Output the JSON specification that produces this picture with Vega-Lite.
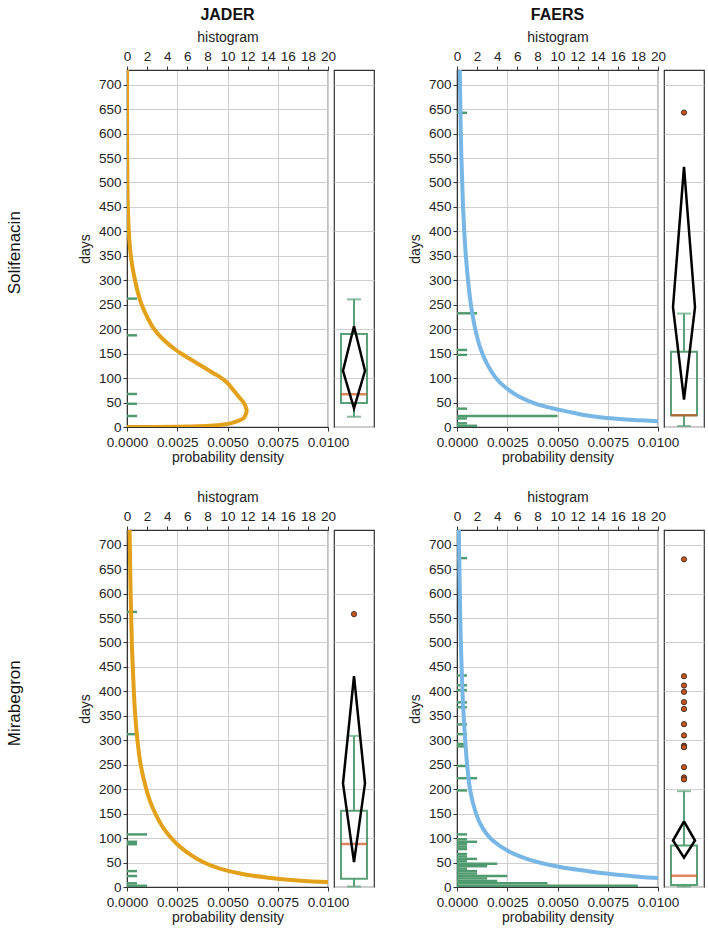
{
"$schema": "https://vega.github.io/schema/vega-lite/v6.json",
"padding": {"left": 5, "top": 6, "right": 2, "bottom": 2},
"spacing": 23,
"config": {
  "font": "Liberation Sans",
  "view": {"stroke": "#333", "strokeWidth": 1.2},
  "axis": {"labelFontSize": 13.5, "titleFontSize": 14, "labelColor": "#222", "titleColor": "#222", "titleFontWeight": "normal", "domainColor": "#333", "tickColor": "#333", "gridColor": "#cfcfcf", "tickSize": 4, "labelPadding": 2, "titlePadding": 3, "labelFlush": false, "labelOverlap": false},
  "axisTop": {"labelPadding": 3, "titlePadding": 5},
  "axisBottom": {"labelPadding": 4, "titlePadding": 2},
  "axisLeft": {"titlePadding": 6},
  "title": {"fontSize": 16, "fontWeight": "bold", "color": "#111"}
},
"datasets": {
  "hist": [
    {"src":"JADER","drug":"Solifenacin","days":20,"days2":25,"count":1},
    {"src":"JADER","drug":"Solifenacin","days":45,"days2":50,"count":1},
    {"src":"JADER","drug":"Solifenacin","days":65,"days2":70,"count":1},
    {"src":"JADER","drug":"Solifenacin","days":185,"days2":190,"count":1},
    {"src":"JADER","drug":"Solifenacin","days":260,"days2":265,"count":1},
    {"src":"FAERS","drug":"Solifenacin","days":0,"days2":5,"count":2},
    {"src":"FAERS","drug":"Solifenacin","days":5,"days2":10,"count":1},
    {"src":"FAERS","drug":"Solifenacin","days":15,"days2":20,"count":1},
    {"src":"FAERS","drug":"Solifenacin","days":20,"days2":25,"count":10},
    {"src":"FAERS","drug":"Solifenacin","days":35,"days2":40,"count":1},
    {"src":"FAERS","drug":"Solifenacin","days":145,"days2":150,"count":1},
    {"src":"FAERS","drug":"Solifenacin","days":155,"days2":160,"count":1},
    {"src":"FAERS","drug":"Solifenacin","days":230,"days2":235,"count":2},
    {"src":"FAERS","drug":"Solifenacin","days":640,"days2":645,"count":1},
    {"src":"JADER","drug":"Mirabegron","days":0,"days2":5,"count":2},
    {"src":"JADER","drug":"Mirabegron","days":5,"days2":10,"count":1},
    {"src":"JADER","drug":"Mirabegron","days":20,"days2":25,"count":1},
    {"src":"JADER","drug":"Mirabegron","days":30,"days2":35,"count":1},
    {"src":"JADER","drug":"Mirabegron","days":85,"days2":90,"count":1},
    {"src":"JADER","drug":"Mirabegron","days":90,"days2":95,"count":1},
    {"src":"JADER","drug":"Mirabegron","days":105,"days2":110,"count":2},
    {"src":"JADER","drug":"Mirabegron","days":310,"days2":315,"count":1},
    {"src":"JADER","drug":"Mirabegron","days":560,"days2":565,"count":1},
    {"src":"FAERS","drug":"Mirabegron","days":0,"days2":5,"count":18},
    {"src":"FAERS","drug":"Mirabegron","days":5,"days2":10,"count":9},
    {"src":"FAERS","drug":"Mirabegron","days":10,"days2":15,"count":4},
    {"src":"FAERS","drug":"Mirabegron","days":15,"days2":20,"count":3},
    {"src":"FAERS","drug":"Mirabegron","days":20,"days2":25,"count":5},
    {"src":"FAERS","drug":"Mirabegron","days":25,"days2":30,"count":2},
    {"src":"FAERS","drug":"Mirabegron","days":30,"days2":35,"count":2},
    {"src":"FAERS","drug":"Mirabegron","days":35,"days2":40,"count":1},
    {"src":"FAERS","drug":"Mirabegron","days":40,"days2":45,"count":3},
    {"src":"FAERS","drug":"Mirabegron","days":45,"days2":50,"count":4},
    {"src":"FAERS","drug":"Mirabegron","days":50,"days2":55,"count":1},
    {"src":"FAERS","drug":"Mirabegron","days":55,"days2":60,"count":2},
    {"src":"FAERS","drug":"Mirabegron","days":60,"days2":65,"count":1},
    {"src":"FAERS","drug":"Mirabegron","days":65,"days2":70,"count":1},
    {"src":"FAERS","drug":"Mirabegron","days":75,"days2":80,"count":1},
    {"src":"FAERS","drug":"Mirabegron","days":80,"days2":85,"count":1},
    {"src":"FAERS","drug":"Mirabegron","days":85,"days2":90,"count":1},
    {"src":"FAERS","drug":"Mirabegron","days":90,"days2":95,"count":2},
    {"src":"FAERS","drug":"Mirabegron","days":95,"days2":100,"count":1},
    {"src":"FAERS","drug":"Mirabegron","days":105,"days2":110,"count":1},
    {"src":"FAERS","drug":"Mirabegron","days":195,"days2":200,"count":1},
    {"src":"FAERS","drug":"Mirabegron","days":220,"days2":225,"count":2},
    {"src":"FAERS","drug":"Mirabegron","days":245,"days2":250,"count":1},
    {"src":"FAERS","drug":"Mirabegron","days":285,"days2":290,"count":1},
    {"src":"FAERS","drug":"Mirabegron","days":290,"days2":295,"count":1},
    {"src":"FAERS","drug":"Mirabegron","days":310,"days2":315,"count":1},
    {"src":"FAERS","drug":"Mirabegron","days":330,"days2":335,"count":1},
    {"src":"FAERS","drug":"Mirabegron","days":365,"days2":370,"count":1},
    {"src":"FAERS","drug":"Mirabegron","days":375,"days2":380,"count":1},
    {"src":"FAERS","drug":"Mirabegron","days":400,"days2":405,"count":1},
    {"src":"FAERS","drug":"Mirabegron","days":410,"days2":415,"count":1},
    {"src":"FAERS","drug":"Mirabegron","days":430,"days2":435,"count":1},
    {"src":"FAERS","drug":"Mirabegron","days":670,"days2":675,"count":1}
  ],
  "dens": [
    {"src":"JADER","drug":"Solifenacin","days":0,"dens":0},
    {"src":"JADER","drug":"Solifenacin","days":0.5,"dens":0.0025},
    {"src":"JADER","drug":"Solifenacin","days":1,"dens":0.0032},
    {"src":"JADER","drug":"Solifenacin","days":2,"dens":0.0039},
    {"src":"JADER","drug":"Solifenacin","days":3,"dens":0.0043},
    {"src":"JADER","drug":"Solifenacin","days":5,"dens":0.0048},
    {"src":"JADER","drug":"Solifenacin","days":8,"dens":0.0052},
    {"src":"JADER","drug":"Solifenacin","days":12,"dens":0.0055},
    {"src":"JADER","drug":"Solifenacin","days":18,"dens":0.0058},
    {"src":"JADER","drug":"Solifenacin","days":25,"dens":0.0059},
    {"src":"JADER","drug":"Solifenacin","days":33,"dens":0.00595},
    {"src":"JADER","drug":"Solifenacin","days":42,"dens":0.0059},
    {"src":"JADER","drug":"Solifenacin","days":50,"dens":0.0058},
    {"src":"JADER","drug":"Solifenacin","days":60,"dens":0.0056},
    {"src":"JADER","drug":"Solifenacin","days":70,"dens":0.0054},
    {"src":"JADER","drug":"Solifenacin","days":80,"dens":0.0052},
    {"src":"JADER","drug":"Solifenacin","days":90,"dens":0.005},
    {"src":"JADER","drug":"Solifenacin","days":100,"dens":0.0047},
    {"src":"JADER","drug":"Solifenacin","days":110,"dens":0.0043},
    {"src":"JADER","drug":"Solifenacin","days":120,"dens":0.0039},
    {"src":"JADER","drug":"Solifenacin","days":130,"dens":0.0035},
    {"src":"JADER","drug":"Solifenacin","days":140,"dens":0.0031},
    {"src":"JADER","drug":"Solifenacin","days":150,"dens":0.0027},
    {"src":"JADER","drug":"Solifenacin","days":160,"dens":0.00235},
    {"src":"JADER","drug":"Solifenacin","days":170,"dens":0.00205},
    {"src":"JADER","drug":"Solifenacin","days":180,"dens":0.00178},
    {"src":"JADER","drug":"Solifenacin","days":190,"dens":0.00155},
    {"src":"JADER","drug":"Solifenacin","days":200,"dens":0.00135},
    {"src":"JADER","drug":"Solifenacin","days":212,"dens":0.00117},
    {"src":"JADER","drug":"Solifenacin","days":225,"dens":0.001},
    {"src":"JADER","drug":"Solifenacin","days":250,"dens":0.00073},
    {"src":"JADER","drug":"Solifenacin","days":275,"dens":0.00054},
    {"src":"JADER","drug":"Solifenacin","days":300,"dens":0.0004},
    {"src":"JADER","drug":"Solifenacin","days":325,"dens":0.00028},
    {"src":"JADER","drug":"Solifenacin","days":350,"dens":0.00019},
    {"src":"JADER","drug":"Solifenacin","days":375,"dens":0.00013},
    {"src":"JADER","drug":"Solifenacin","days":400,"dens":0.00009},
    {"src":"JADER","drug":"Solifenacin","days":450,"dens":0.00004},
    {"src":"JADER","drug":"Solifenacin","days":500,"dens":0.00002},
    {"src":"JADER","drug":"Solifenacin","days":550,"dens":0.00001},
    {"src":"JADER","drug":"Solifenacin","days":600,"dens":0.000004},
    {"src":"JADER","drug":"Solifenacin","days":730,"dens":0},
    {"src":"FAERS","drug":"Solifenacin","days":12,"dens":0.01},
    {"src":"FAERS","drug":"Solifenacin","days":14,"dens":0.009},
    {"src":"FAERS","drug":"Solifenacin","days":17,"dens":0.0079},
    {"src":"FAERS","drug":"Solifenacin","days":20,"dens":0.0071},
    {"src":"FAERS","drug":"Solifenacin","days":24,"dens":0.0064},
    {"src":"FAERS","drug":"Solifenacin","days":28,"dens":0.0059},
    {"src":"FAERS","drug":"Solifenacin","days":35,"dens":0.0051},
    {"src":"FAERS","drug":"Solifenacin","days":48,"dens":0.0039},
    {"src":"FAERS","drug":"Solifenacin","days":62,"dens":0.0031},
    {"src":"FAERS","drug":"Solifenacin","days":75,"dens":0.0026},
    {"src":"FAERS","drug":"Solifenacin","days":96,"dens":0.00202},
    {"src":"FAERS","drug":"Solifenacin","days":130,"dens":0.00148},
    {"src":"FAERS","drug":"Solifenacin","days":164,"dens":0.00114},
    {"src":"FAERS","drug":"Solifenacin","days":198,"dens":0.00092},
    {"src":"FAERS","drug":"Solifenacin","days":232,"dens":0.00076},
    {"src":"FAERS","drug":"Solifenacin","days":266,"dens":0.00064},
    {"src":"FAERS","drug":"Solifenacin","days":300,"dens":0.00055},
    {"src":"FAERS","drug":"Solifenacin","days":350,"dens":0.00044},
    {"src":"FAERS","drug":"Solifenacin","days":400,"dens":0.00036},
    {"src":"FAERS","drug":"Solifenacin","days":450,"dens":0.0003},
    {"src":"FAERS","drug":"Solifenacin","days":500,"dens":0.00026},
    {"src":"FAERS","drug":"Solifenacin","days":550,"dens":0.00022},
    {"src":"FAERS","drug":"Solifenacin","days":600,"dens":0.00019},
    {"src":"FAERS","drug":"Solifenacin","days":650,"dens":0.00017},
    {"src":"FAERS","drug":"Solifenacin","days":700,"dens":0.00015},
    {"src":"FAERS","drug":"Solifenacin","days":730,"dens":0.00014},
    {"src":"JADER","drug":"Mirabegron","days":10,"dens":0.01},
    {"src":"JADER","drug":"Mirabegron","days":13,"dens":0.00866},
    {"src":"JADER","drug":"Mirabegron","days":16,"dens":0.00772},
    {"src":"JADER","drug":"Mirabegron","days":19,"dens":0.00703},
    {"src":"JADER","drug":"Mirabegron","days":23.5,"dens":0.00619},
    {"src":"JADER","drug":"Mirabegron","days":28,"dens":0.00557},
    {"src":"JADER","drug":"Mirabegron","days":34,"dens":0.00494},
    {"src":"JADER","drug":"Mirabegron","days":40,"dens":0.00444},
    {"src":"JADER","drug":"Mirabegron","days":47,"dens":0.004},
    {"src":"JADER","drug":"Mirabegron","days":54,"dens":0.00364},
    {"src":"JADER","drug":"Mirabegron","days":65,"dens":0.00319},
    {"src":"JADER","drug":"Mirabegron","days":81,"dens":0.00267},
    {"src":"JADER","drug":"Mirabegron","days":98,"dens":0.00225},
    {"src":"JADER","drug":"Mirabegron","days":120,"dens":0.00182},
    {"src":"JADER","drug":"Mirabegron","days":150,"dens":0.00141},
    {"src":"JADER","drug":"Mirabegron","days":175,"dens":0.00115},
    {"src":"JADER","drug":"Mirabegron","days":200,"dens":0.00096},
    {"src":"JADER","drug":"Mirabegron","days":250,"dens":0.00068},
    {"src":"JADER","drug":"Mirabegron","days":300,"dens":0.00052},
    {"src":"JADER","drug":"Mirabegron","days":350,"dens":0.00041},
    {"src":"JADER","drug":"Mirabegron","days":400,"dens":0.00034},
    {"src":"JADER","drug":"Mirabegron","days":500,"dens":0.00024},
    {"src":"JADER","drug":"Mirabegron","days":600,"dens":0.00018},
    {"src":"JADER","drug":"Mirabegron","days":700,"dens":0.00014},
    {"src":"JADER","drug":"Mirabegron","days":730,"dens":0.00013},
    {"src":"FAERS","drug":"Mirabegron","days":18.5,"dens":0.01},
    {"src":"FAERS","drug":"Mirabegron","days":20,"dens":0.0093},
    {"src":"FAERS","drug":"Mirabegron","days":23.5,"dens":0.0084},
    {"src":"FAERS","drug":"Mirabegron","days":28,"dens":0.0073},
    {"src":"FAERS","drug":"Mirabegron","days":33.7,"dens":0.0063},
    {"src":"FAERS","drug":"Mirabegron","days":40,"dens":0.00526},
    {"src":"FAERS","drug":"Mirabegron","days":47,"dens":0.0044},
    {"src":"FAERS","drug":"Mirabegron","days":54,"dens":0.00375},
    {"src":"FAERS","drug":"Mirabegron","days":61,"dens":0.00324},
    {"src":"FAERS","drug":"Mirabegron","days":74.5,"dens":0.0025},
    {"src":"FAERS","drug":"Mirabegron","days":95,"dens":0.00178},
    {"src":"FAERS","drug":"Mirabegron","days":110,"dens":0.00145},
    {"src":"FAERS","drug":"Mirabegron","days":129,"dens":0.00116},
    {"src":"FAERS","drug":"Mirabegron","days":163,"dens":0.00085},
    {"src":"FAERS","drug":"Mirabegron","days":197,"dens":0.00066},
    {"src":"FAERS","drug":"Mirabegron","days":231,"dens":0.00055},
    {"src":"FAERS","drug":"Mirabegron","days":265,"dens":0.00047},
    {"src":"FAERS","drug":"Mirabegron","days":300,"dens":0.00041},
    {"src":"FAERS","drug":"Mirabegron","days":350,"dens":0.00033},
    {"src":"FAERS","drug":"Mirabegron","days":400,"dens":0.00027},
    {"src":"FAERS","drug":"Mirabegron","days":450,"dens":0.00023},
    {"src":"FAERS","drug":"Mirabegron","days":500,"dens":0.00019},
    {"src":"FAERS","drug":"Mirabegron","days":600,"dens":0.00014},
    {"src":"FAERS","drug":"Mirabegron","days":700,"dens":0.0001},
    {"src":"FAERS","drug":"Mirabegron","days":730,"dens":0.00009}
  ],
  "box": [
    {"src":"JADER","drug":"Solifenacin","lo":21,"q1":49,"med":67,"q3":190,"hi":261},
    {"src":"FAERS","drug":"Solifenacin","lo":2,"q1":24,"med":24,"q3":154,"hi":232},
    {"src":"JADER","drug":"Mirabegron","lo":1,"q1":17,"med":88,"q3":156,"hi":309},
    {"src":"FAERS","drug":"Mirabegron","lo":1,"q1":4,"med":23,"q3":85,"hi":196}
  ],
  "diam": [
    {"src":"JADER","drug":"Solifenacin","k":0,"slot":"C","days":206},
    {"src":"JADER","drug":"Solifenacin","k":1,"slot":"R","days":115},
    {"src":"JADER","drug":"Solifenacin","k":2,"slot":"C","days":38},
    {"src":"JADER","drug":"Solifenacin","k":3,"slot":"L","days":115},
    {"src":"JADER","drug":"Solifenacin","k":4,"slot":"C","days":206},
    {"src":"FAERS","drug":"Solifenacin","k":0,"slot":"C","days":532},
    {"src":"FAERS","drug":"Solifenacin","k":1,"slot":"R","days":245},
    {"src":"FAERS","drug":"Solifenacin","k":2,"slot":"C","days":56},
    {"src":"FAERS","drug":"Solifenacin","k":3,"slot":"L","days":245},
    {"src":"FAERS","drug":"Solifenacin","k":4,"slot":"C","days":532},
    {"src":"JADER","drug":"Mirabegron","k":0,"slot":"C","days":431},
    {"src":"JADER","drug":"Mirabegron","k":1,"slot":"R","days":212},
    {"src":"JADER","drug":"Mirabegron","k":2,"slot":"C","days":51},
    {"src":"JADER","drug":"Mirabegron","k":3,"slot":"L","days":212},
    {"src":"JADER","drug":"Mirabegron","k":4,"slot":"C","days":431},
    {"src":"FAERS","drug":"Mirabegron","k":0,"slot":"C","days":134},
    {"src":"FAERS","drug":"Mirabegron","k":1,"slot":"R","days":95},
    {"src":"FAERS","drug":"Mirabegron","k":2,"slot":"C","days":60},
    {"src":"FAERS","drug":"Mirabegron","k":3,"slot":"L","days":95},
    {"src":"FAERS","drug":"Mirabegron","k":4,"slot":"C","days":134}
  ],
  "outl": [
    {"src":"FAERS","drug":"Solifenacin","days":643},
    {"src":"JADER","drug":"Mirabegron","days":558},
    {"src":"FAERS","drug":"Mirabegron","days":670},
    {"src":"FAERS","drug":"Mirabegron","days":431},
    {"src":"FAERS","drug":"Mirabegron","days":412},
    {"src":"FAERS","drug":"Mirabegron","days":399},
    {"src":"FAERS","drug":"Mirabegron","days":378},
    {"src":"FAERS","drug":"Mirabegron","days":364},
    {"src":"FAERS","drug":"Mirabegron","days":333},
    {"src":"FAERS","drug":"Mirabegron","days":310},
    {"src":"FAERS","drug":"Mirabegron","days":289},
    {"src":"FAERS","drug":"Mirabegron","days":286},
    {"src":"FAERS","drug":"Mirabegron","days":245},
    {"src":"FAERS","drug":"Mirabegron","days":224},
    {"src":"FAERS","drug":"Mirabegron","days":220}
  ]
},
"vconcat": [
  {
    "title": {"text": "Solifenacin", "orient": "left", "anchor": "middle", "fontSize": 17, "fontWeight": "normal", "offset": 54, "dx": -17},
    "spacing": 32,
    "hconcat": [
      {"bounds": "flush", "spacing": 6, "hconcat": [
        {"width": 201, "height": 357,
         "title": {"text": "JADER", "anchor": "middle", "frame": "group", "offset": 7},
         "layer": [
          {"data": {"name": "hist"}, "transform": [{"filter": "datum.src=='JADER' && datum.drug=='Solifenacin'"}],
           "mark": {"type": "bar", "color": "#4F9A6E"},
           "encoding": {
            "y": {"field": "days", "type": "quantitative", "scale": {"domain": [0, 730], "nice": false}, "axis": {"title": "days", "values": [0,50,100,150,200,250,300,350,400,450,500,550,600,650,700], "grid": true}},
            "y2": {"field": "days2"},
            "x": {"field": "count", "type": "quantitative", "scale": {"domain": [0, 20], "nice": false}, "axis": {"orient": "top", "title": "histogram", "values": [0,2,4,6,8,10,12,14,16,18,20], "grid": false}},
            "x2": {"datum": 0}}},
          {"data": {"name": "dens"}, "transform": [{"filter": "datum.src=='JADER' && datum.drug=='Solifenacin'"}],
           "mark": {"type": "line", "color": "#E3A11A", "strokeWidth": 4, "clip": true, "interpolate": "catmull-rom"},
           "encoding": {
            "y": {"field": "days", "type": "quantitative", "scale": {"domain": [0, 730], "nice": false}, "axis": {"title": "days", "values": [0,50,100,150,200,250,300,350,400,450,500,550,600,650,700], "grid": true}},
            "x": {"field": "dens", "type": "quantitative", "scale": {"domain": [0, 0.01], "nice": false}, "axis": {"orient": "bottom", "title": "probability density", "values": [0,0.0025,0.005,0.0075,0.01], "format": ".4f", "grid": true}},
            "order": {"field": "days"}}}
         ],
         "resolve": {"scale": {"x": "independent"}}},
        {"width": 40, "height": 357,
         "layer": [
          {"data": {"name": "box"}, "transform": [{"filter": "datum.src=='JADER' && datum.drug=='Solifenacin'"}],
           "mark": {"type": "rule", "color": "#5BA079", "strokeWidth": 2},
           "encoding": {"x": {"datum": "C", "type": "nominal", "scale": {"type": "point", "domain": ["L","C","R"], "padding": 0.818}, "axis": null},
            "y": {"field": "q3", "type": "quantitative", "scale": {"domain": [0, 730], "nice": false}, "axis": {"title": null, "labels": false, "ticks": false, "domain": false, "grid": true, "values": [0,50,100,150,200,250,300,350,400,450,500,550,600,650,700]}},
            "y2": {"field": "hi"}}},
          {"data": {"name": "box"}, "transform": [{"filter": "datum.src=='JADER' && datum.drug=='Solifenacin'"}],
           "mark": {"type": "rule", "color": "#5BA079", "strokeWidth": 2},
           "encoding": {"x": {"datum": "C", "type": "nominal"}, "y": {"field": "lo", "type": "quantitative"}, "y2": {"field": "q1"}}},
          {"data": {"name": "box"}, "transform": [{"filter": "datum.src=='JADER' && datum.drug=='Solifenacin'"}],
           "mark": {"type": "tick", "color": "#5BA079", "thickness": 2, "size": 14},
           "encoding": {"x": {"datum": "C", "type": "nominal"}, "y": {"field": "hi", "type": "quantitative"}}},
          {"data": {"name": "box"}, "transform": [{"filter": "datum.src=='JADER' && datum.drug=='Solifenacin'"}],
           "mark": {"type": "tick", "color": "#5BA079", "thickness": 2, "size": 14},
           "encoding": {"x": {"datum": "C", "type": "nominal"}, "y": {"field": "lo", "type": "quantitative"}}},
          {"data": {"name": "box"}, "transform": [{"filter": "datum.src=='JADER' && datum.drug=='Solifenacin'"}],
           "mark": {"type": "bar", "filled": false, "color": "#5BA079", "strokeWidth": 2, "width": 26},
           "encoding": {"x": {"datum": "C", "type": "nominal"}, "y": {"field": "q1", "type": "quantitative"}, "y2": {"field": "q3"}}},
          {"data": {"name": "box"}, "transform": [{"filter": "datum.src=='JADER' && datum.drug=='Solifenacin'"}],
           "mark": {"type": "tick", "color": "#C8541A", "thickness": 2.5, "size": 26},
           "encoding": {"x": {"datum": "C", "type": "nominal"}, "y": {"field": "med", "type": "quantitative"}}},
          {"data": {"name": "diam"}, "transform": [{"filter": "datum.src=='JADER' && datum.drug=='Solifenacin'"}],
           "mark": {"type": "line", "color": "#000", "strokeWidth": 2.5},
           "encoding": {"x": {"field": "slot", "type": "nominal"}, "y": {"field": "days", "type": "quantitative"}, "order": {"field": "k"}}},
          {"data": {"name": "outl"}, "transform": [{"filter": "datum.src=='JADER' && datum.drug=='Solifenacin'"}],
           "mark": {"type": "point", "filled": true, "fill": "#C8541A", "stroke": "#222", "strokeWidth": 0.8, "size": 28, "opacity": 1},
           "encoding": {"x": {"datum": "C", "type": "nominal"}, "y": {"field": "days", "type": "quantitative"}}}
         ]}
      ]},
      {"bounds": "flush", "spacing": 6, "hconcat": [
        {"width": 201, "height": 357,
         "title": {"text": "FAERS", "anchor": "middle", "frame": "group", "offset": 7},
         "layer": [
          {"data": {"name": "hist"}, "transform": [{"filter": "datum.src=='FAERS' && datum.drug=='Solifenacin'"}],
           "mark": {"type": "bar", "color": "#4F9A6E"},
           "encoding": {
            "y": {"field": "days", "type": "quantitative", "scale": {"domain": [0, 730], "nice": false}, "axis": {"title": "days", "values": [0,50,100,150,200,250,300,350,400,450,500,550,600,650,700], "grid": true}},
            "y2": {"field": "days2"},
            "x": {"field": "count", "type": "quantitative", "scale": {"domain": [0, 20], "nice": false}, "axis": {"orient": "top", "title": "histogram", "values": [0,2,4,6,8,10,12,14,16,18,20], "grid": false}},
            "x2": {"datum": 0}}},
          {"data": {"name": "dens"}, "transform": [{"filter": "datum.src=='FAERS' && datum.drug=='Solifenacin'"}],
           "mark": {"type": "line", "color": "#78B6E6", "strokeWidth": 4, "clip": true, "interpolate": "catmull-rom"},
           "encoding": {
            "y": {"field": "days", "type": "quantitative", "scale": {"domain": [0, 730], "nice": false}, "axis": {"title": "days", "values": [0,50,100,150,200,250,300,350,400,450,500,550,600,650,700], "grid": true}},
            "x": {"field": "dens", "type": "quantitative", "scale": {"domain": [0, 0.01], "nice": false}, "axis": {"orient": "bottom", "title": "probability density", "values": [0,0.0025,0.005,0.0075,0.01], "format": ".4f", "grid": true}},
            "order": {"field": "days"}}}
         ],
         "resolve": {"scale": {"x": "independent"}}},
        {"width": 40, "height": 357,
         "layer": [
          {"data": {"name": "box"}, "transform": [{"filter": "datum.src=='FAERS' && datum.drug=='Solifenacin'"}],
           "mark": {"type": "rule", "color": "#5BA079", "strokeWidth": 2},
           "encoding": {"x": {"datum": "C", "type": "nominal", "scale": {"type": "point", "domain": ["L","C","R"], "padding": 0.818}, "axis": null},
            "y": {"field": "q3", "type": "quantitative", "scale": {"domain": [0, 730], "nice": false}, "axis": {"title": null, "labels": false, "ticks": false, "domain": false, "grid": true, "values": [0,50,100,150,200,250,300,350,400,450,500,550,600,650,700]}},
            "y2": {"field": "hi"}}},
          {"data": {"name": "box"}, "transform": [{"filter": "datum.src=='FAERS' && datum.drug=='Solifenacin'"}],
           "mark": {"type": "rule", "color": "#5BA079", "strokeWidth": 2},
           "encoding": {"x": {"datum": "C", "type": "nominal"}, "y": {"field": "lo", "type": "quantitative"}, "y2": {"field": "q1"}}},
          {"data": {"name": "box"}, "transform": [{"filter": "datum.src=='FAERS' && datum.drug=='Solifenacin'"}],
           "mark": {"type": "tick", "color": "#5BA079", "thickness": 2, "size": 14},
           "encoding": {"x": {"datum": "C", "type": "nominal"}, "y": {"field": "hi", "type": "quantitative"}}},
          {"data": {"name": "box"}, "transform": [{"filter": "datum.src=='FAERS' && datum.drug=='Solifenacin'"}],
           "mark": {"type": "tick", "color": "#5BA079", "thickness": 2, "size": 14},
           "encoding": {"x": {"datum": "C", "type": "nominal"}, "y": {"field": "lo", "type": "quantitative"}}},
          {"data": {"name": "box"}, "transform": [{"filter": "datum.src=='FAERS' && datum.drug=='Solifenacin'"}],
           "mark": {"type": "bar", "filled": false, "color": "#5BA079", "strokeWidth": 2, "width": 26},
           "encoding": {"x": {"datum": "C", "type": "nominal"}, "y": {"field": "q1", "type": "quantitative"}, "y2": {"field": "q3"}}},
          {"data": {"name": "box"}, "transform": [{"filter": "datum.src=='FAERS' && datum.drug=='Solifenacin'"}],
           "mark": {"type": "tick", "color": "#C8541A", "thickness": 2.5, "size": 26},
           "encoding": {"x": {"datum": "C", "type": "nominal"}, "y": {"field": "med", "type": "quantitative"}}},
          {"data": {"name": "diam"}, "transform": [{"filter": "datum.src=='FAERS' && datum.drug=='Solifenacin'"}],
           "mark": {"type": "line", "color": "#000", "strokeWidth": 2.5},
           "encoding": {"x": {"field": "slot", "type": "nominal"}, "y": {"field": "days", "type": "quantitative"}, "order": {"field": "k"}}},
          {"data": {"name": "outl"}, "transform": [{"filter": "datum.src=='FAERS' && datum.drug=='Solifenacin'"}],
           "mark": {"type": "point", "filled": true, "fill": "#C8541A", "stroke": "#222", "strokeWidth": 0.8, "size": 28, "opacity": 1},
           "encoding": {"x": {"datum": "C", "type": "nominal"}, "y": {"field": "days", "type": "quantitative"}}}
         ]}
      ]}
    ]
  },
  {
    "title": {"text": "Mirabegron", "orient": "left", "anchor": "middle", "fontSize": 17, "fontWeight": "normal", "offset": 54, "dx": 4},
    "spacing": 32,
    "hconcat": [
      {"bounds": "flush", "spacing": 6, "hconcat": [
        {"width": 201, "height": 357,
         "layer": [
          {"data": {"name": "hist"}, "transform": [{"filter": "datum.src=='JADER' && datum.drug=='Mirabegron'"}],
           "mark": {"type": "bar", "color": "#4F9A6E"},
           "encoding": {
            "y": {"field": "days", "type": "quantitative", "scale": {"domain": [0, 730], "nice": false}, "axis": {"title": "days", "values": [0,50,100,150,200,250,300,350,400,450,500,550,600,650,700], "grid": true}},
            "y2": {"field": "days2"},
            "x": {"field": "count", "type": "quantitative", "scale": {"domain": [0, 20], "nice": false}, "axis": {"orient": "top", "title": "histogram", "values": [0,2,4,6,8,10,12,14,16,18,20], "grid": false}},
            "x2": {"datum": 0}}},
          {"data": {"name": "dens"}, "transform": [{"filter": "datum.src=='JADER' && datum.drug=='Mirabegron'"}],
           "mark": {"type": "line", "color": "#E3A11A", "strokeWidth": 4, "clip": true, "interpolate": "catmull-rom"},
           "encoding": {
            "y": {"field": "days", "type": "quantitative", "scale": {"domain": [0, 730], "nice": false}, "axis": {"title": "days", "values": [0,50,100,150,200,250,300,350,400,450,500,550,600,650,700], "grid": true}},
            "x": {"field": "dens", "type": "quantitative", "scale": {"domain": [0, 0.01], "nice": false}, "axis": {"orient": "bottom", "title": "probability density", "values": [0,0.0025,0.005,0.0075,0.01], "format": ".4f", "grid": true}},
            "order": {"field": "days"}}}
         ],
         "resolve": {"scale": {"x": "independent"}}},
        {"width": 40, "height": 357,
         "layer": [
          {"data": {"name": "box"}, "transform": [{"filter": "datum.src=='JADER' && datum.drug=='Mirabegron'"}],
           "mark": {"type": "rule", "color": "#5BA079", "strokeWidth": 2},
           "encoding": {"x": {"datum": "C", "type": "nominal", "scale": {"type": "point", "domain": ["L","C","R"], "padding": 0.818}, "axis": null},
            "y": {"field": "q3", "type": "quantitative", "scale": {"domain": [0, 730], "nice": false}, "axis": {"title": null, "labels": false, "ticks": false, "domain": false, "grid": true, "values": [0,50,100,150,200,250,300,350,400,450,500,550,600,650,700]}},
            "y2": {"field": "hi"}}},
          {"data": {"name": "box"}, "transform": [{"filter": "datum.src=='JADER' && datum.drug=='Mirabegron'"}],
           "mark": {"type": "rule", "color": "#5BA079", "strokeWidth": 2},
           "encoding": {"x": {"datum": "C", "type": "nominal"}, "y": {"field": "lo", "type": "quantitative"}, "y2": {"field": "q1"}}},
          {"data": {"name": "box"}, "transform": [{"filter": "datum.src=='JADER' && datum.drug=='Mirabegron'"}],
           "mark": {"type": "tick", "color": "#5BA079", "thickness": 2, "size": 14},
           "encoding": {"x": {"datum": "C", "type": "nominal"}, "y": {"field": "hi", "type": "quantitative"}}},
          {"data": {"name": "box"}, "transform": [{"filter": "datum.src=='JADER' && datum.drug=='Mirabegron'"}],
           "mark": {"type": "tick", "color": "#5BA079", "thickness": 2, "size": 14},
           "encoding": {"x": {"datum": "C", "type": "nominal"}, "y": {"field": "lo", "type": "quantitative"}}},
          {"data": {"name": "box"}, "transform": [{"filter": "datum.src=='JADER' && datum.drug=='Mirabegron'"}],
           "mark": {"type": "bar", "filled": false, "color": "#5BA079", "strokeWidth": 2, "width": 26},
           "encoding": {"x": {"datum": "C", "type": "nominal"}, "y": {"field": "q1", "type": "quantitative"}, "y2": {"field": "q3"}}},
          {"data": {"name": "box"}, "transform": [{"filter": "datum.src=='JADER' && datum.drug=='Mirabegron'"}],
           "mark": {"type": "tick", "color": "#C8541A", "thickness": 2.5, "size": 26},
           "encoding": {"x": {"datum": "C", "type": "nominal"}, "y": {"field": "med", "type": "quantitative"}}},
          {"data": {"name": "diam"}, "transform": [{"filter": "datum.src=='JADER' && datum.drug=='Mirabegron'"}],
           "mark": {"type": "line", "color": "#000", "strokeWidth": 2.5},
           "encoding": {"x": {"field": "slot", "type": "nominal"}, "y": {"field": "days", "type": "quantitative"}, "order": {"field": "k"}}},
          {"data": {"name": "outl"}, "transform": [{"filter": "datum.src=='JADER' && datum.drug=='Mirabegron'"}],
           "mark": {"type": "point", "filled": true, "fill": "#C8541A", "stroke": "#222", "strokeWidth": 0.8, "size": 28, "opacity": 1},
           "encoding": {"x": {"datum": "C", "type": "nominal"}, "y": {"field": "days", "type": "quantitative"}}}
         ]}
      ]},
      {"bounds": "flush", "spacing": 6, "hconcat": [
        {"width": 201, "height": 357,
         "layer": [
          {"data": {"name": "hist"}, "transform": [{"filter": "datum.src=='FAERS' && datum.drug=='Mirabegron'"}],
           "mark": {"type": "bar", "color": "#4F9A6E"},
           "encoding": {
            "y": {"field": "days", "type": "quantitative", "scale": {"domain": [0, 730], "nice": false}, "axis": {"title": "days", "values": [0,50,100,150,200,250,300,350,400,450,500,550,600,650,700], "grid": true}},
            "y2": {"field": "days2"},
            "x": {"field": "count", "type": "quantitative", "scale": {"domain": [0, 20], "nice": false}, "axis": {"orient": "top", "title": "histogram", "values": [0,2,4,6,8,10,12,14,16,18,20], "grid": false}},
            "x2": {"datum": 0}}},
          {"data": {"name": "dens"}, "transform": [{"filter": "datum.src=='FAERS' && datum.drug=='Mirabegron'"}],
           "mark": {"type": "line", "color": "#78B6E6", "strokeWidth": 4, "clip": true, "interpolate": "catmull-rom"},
           "encoding": {
            "y": {"field": "days", "type": "quantitative", "scale": {"domain": [0, 730], "nice": false}, "axis": {"title": "days", "values": [0,50,100,150,200,250,300,350,400,450,500,550,600,650,700], "grid": true}},
            "x": {"field": "dens", "type": "quantitative", "scale": {"domain": [0, 0.01], "nice": false}, "axis": {"orient": "bottom", "title": "probability density", "values": [0,0.0025,0.005,0.0075,0.01], "format": ".4f", "grid": true}},
            "order": {"field": "days"}}}
         ],
         "resolve": {"scale": {"x": "independent"}}},
        {"width": 40, "height": 357,
         "layer": [
          {"data": {"name": "box"}, "transform": [{"filter": "datum.src=='FAERS' && datum.drug=='Mirabegron'"}],
           "mark": {"type": "rule", "color": "#5BA079", "strokeWidth": 2},
           "encoding": {"x": {"datum": "C", "type": "nominal", "scale": {"type": "point", "domain": ["L","C","R"], "padding": 0.818}, "axis": null},
            "y": {"field": "q3", "type": "quantitative", "scale": {"domain": [0, 730], "nice": false}, "axis": {"title": null, "labels": false, "ticks": false, "domain": false, "grid": true, "values": [0,50,100,150,200,250,300,350,400,450,500,550,600,650,700]}},
            "y2": {"field": "hi"}}},
          {"data": {"name": "box"}, "transform": [{"filter": "datum.src=='FAERS' && datum.drug=='Mirabegron'"}],
           "mark": {"type": "rule", "color": "#5BA079", "strokeWidth": 2},
           "encoding": {"x": {"datum": "C", "type": "nominal"}, "y": {"field": "lo", "type": "quantitative"}, "y2": {"field": "q1"}}},
          {"data": {"name": "box"}, "transform": [{"filter": "datum.src=='FAERS' && datum.drug=='Mirabegron'"}],
           "mark": {"type": "tick", "color": "#5BA079", "thickness": 2, "size": 14},
           "encoding": {"x": {"datum": "C", "type": "nominal"}, "y": {"field": "hi", "type": "quantitative"}}},
          {"data": {"name": "box"}, "transform": [{"filter": "datum.src=='FAERS' && datum.drug=='Mirabegron'"}],
           "mark": {"type": "tick", "color": "#5BA079", "thickness": 2, "size": 14},
           "encoding": {"x": {"datum": "C", "type": "nominal"}, "y": {"field": "lo", "type": "quantitative"}}},
          {"data": {"name": "box"}, "transform": [{"filter": "datum.src=='FAERS' && datum.drug=='Mirabegron'"}],
           "mark": {"type": "bar", "filled": false, "color": "#5BA079", "strokeWidth": 2, "width": 26},
           "encoding": {"x": {"datum": "C", "type": "nominal"}, "y": {"field": "q1", "type": "quantitative"}, "y2": {"field": "q3"}}},
          {"data": {"name": "box"}, "transform": [{"filter": "datum.src=='FAERS' && datum.drug=='Mirabegron'"}],
           "mark": {"type": "tick", "color": "#C8541A", "thickness": 2.5, "size": 26},
           "encoding": {"x": {"datum": "C", "type": "nominal"}, "y": {"field": "med", "type": "quantitative"}}},
          {"data": {"name": "diam"}, "transform": [{"filter": "datum.src=='FAERS' && datum.drug=='Mirabegron'"}],
           "mark": {"type": "line", "color": "#000", "strokeWidth": 2.5},
           "encoding": {"x": {"field": "slot", "type": "nominal"}, "y": {"field": "days", "type": "quantitative"}, "order": {"field": "k"}}},
          {"data": {"name": "outl"}, "transform": [{"filter": "datum.src=='FAERS' && datum.drug=='Mirabegron'"}],
           "mark": {"type": "point", "filled": true, "fill": "#C8541A", "stroke": "#222", "strokeWidth": 0.8, "size": 28, "opacity": 1},
           "encoding": {"x": {"datum": "C", "type": "nominal"}, "y": {"field": "days", "type": "quantitative"}}}
         ]}
      ]}
    ]
  }
]
}
